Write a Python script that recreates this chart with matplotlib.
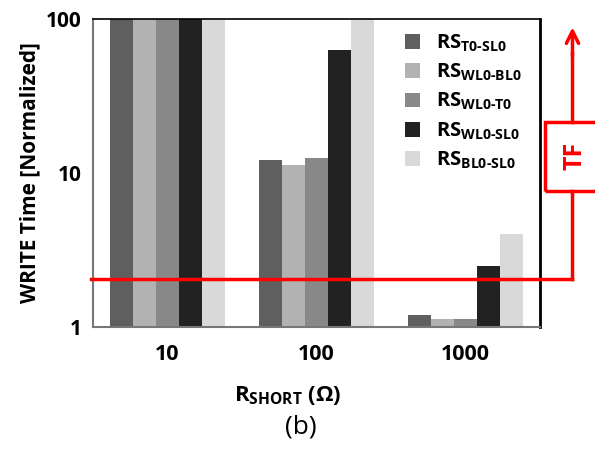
import numpy as np
import matplotlib.pyplot as plt
from matplotlib.patches import Rectangle

plt.rcParams['font.family'] = ['Open Sans', 'DejaVu Sans']

groups = ['10', '100', '1000']
labels = [r'RS$_{\mathbf{T0\text{-}SL0}}$', r'RS$_{\mathbf{WL0\text{-}BL0}}$',
          r'RS$_{\mathbf{WL0\text{-}T0}}$', r'RS$_{\mathbf{WL0\text{-}SL0}}$',
          r'RS$_{\mathbf{BL0\text{-}SL0}}$']
rs_t0_sl0 = [100, 12.1, 1.2]
rs_wl0_bl0 = [100, 11.3, 1.13]
rs_wl0_t0 = [100, 12.6, 1.13]
rs_wl0_sl0 = [100, 63, 2.5]
rs_bl0_sl0 = [100, 100, 4.0]
tf_level = 2.05

series = [rs_t0_sl0, rs_wl0_bl0, rs_wl0_t0, rs_wl0_sl0, rs_bl0_sl0]
colors = ['#5f5f5f', '#b2b2b2', '#888888', '#222222', '#d9d9d9']

plt.rcParams['mathtext.fontset'] = 'custom'
plt.rcParams['mathtext.bf'] = 'Open Sans:bold'
plt.rcParams['mathtext.rm'] = 'Open Sans:bold'

fig = plt.figure(figsize=(5.95, 4.5), dpi=100)
ax = fig.add_axes([0.156, 0.273, 0.752, 0.685])

x = np.arange(len(groups))
w = 0.154
for i, (vals, c) in enumerate(zip(series, colors)):
    ax.bar(x + (i - 2) * w, vals, w, color=c, label=labels[i], zorder=2)

ax.set_yscale('log')
ax.set_ylim(1, 100)
ax.set_xlim(-0.5, 2.5)
ax.set_xticks(x)
ax.set_xticklabels(groups, fontsize=15.5, fontweight='bold')
ax.set_yticks([1, 10, 100])
ax.set_yticklabels(['1', '10', '100'], fontsize=15, fontweight='bold')
ax.minorticks_off()
ax.tick_params(axis='x', length=0, pad=12)
ax.tick_params(axis='y', length=0, pad=8)
ax.set_ylabel('WRITE Time [Normalized]', fontsize=15, fontweight='bold')
ax.set_xlabel(r'R$_{\mathbf{SHORT}}$ ($\mathbf{\Omega}$)', fontsize=16, fontweight='bold')
ax.xaxis.set_label_coords(0.436, -0.185)
for s in ['left', 'bottom']:
    ax.spines[s].set_color('#777777')
    ax.spines[s].set_linewidth(1.5)
ax.spines['right'].set_linewidth(2)
ax.spines['top'].set_linewidth(1.2)

leg = ax.legend(loc='upper right', bbox_to_anchor=(1.0, 1.015), frameon=False,
                fontsize=14.5, handlelength=0.75, handleheight=0.75,
                labelspacing=0.4, handletextpad=0.8)
for t in leg.get_texts():
    t.set_fontweight('bold')

# TF annotation
tr = ax.get_yaxis_transform()
xv = 1.072
ax.plot([-0.005, xv], [tf_level, tf_level], color='red', lw=2.5, transform=tr,
        clip_on=False, zorder=5)
ax.plot([xv, xv], [tf_level, 7.7], color='red', lw=2.5, transform=tr, clip_on=False)
ax.plot([xv, xv], [21.5, 60], color='red', lw=2.5, transform=tr, clip_on=False)
ax.annotate('', xy=(xv, 92), xytext=(xv, 55), xycoords=tr, textcoords=tr,
            arrowprops=dict(arrowstyle='->', color='red', lw=2.5,
                            mutation_scale=22), annotation_clip=False)
box = Rectangle((1.011, 7.7), 0.2, 21.5 - 7.7, transform=tr, fill=False,
                edgecolor='red', lw=2.5, clip_on=False)
ax.add_patch(box)
ax.text(1.078, 12.9, 'TF', transform=tr, rotation=90, color='red', fontsize=18,
        fontweight='bold', ha='center', va='center')

fig.text(0.505, 0.05, '(b)', fontsize=19, ha='center', va='center')

fig.savefig('out.png', dpi=100)
